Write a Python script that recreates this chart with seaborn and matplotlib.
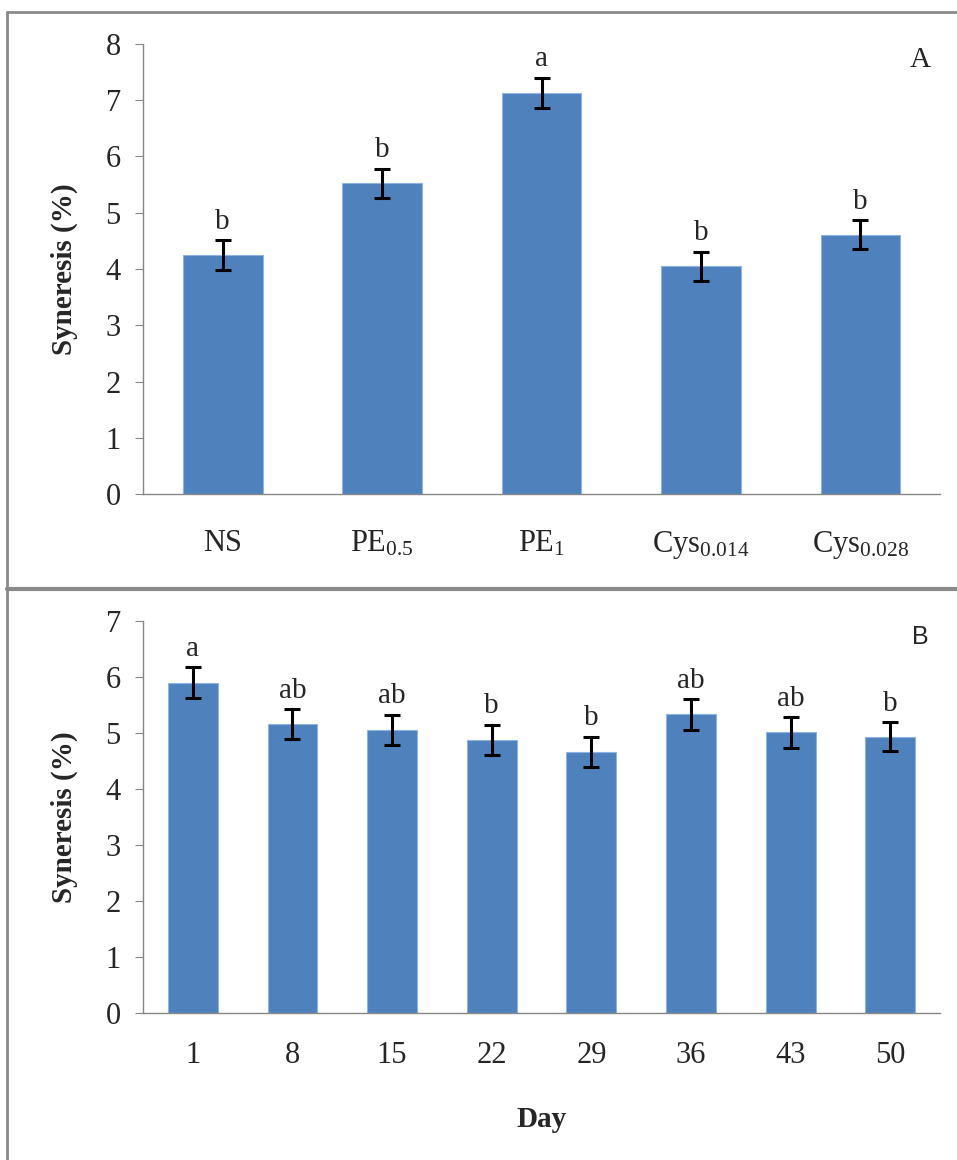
import matplotlib
matplotlib.use("Agg")
import matplotlib.pyplot as plt
import seaborn as sns
import pandas as pd
from matplotlib.lines import Line2D

sns.set_style("white")
plt.rcParams['font.family'] = ['Liberation Serif', 'DejaVu Serif']
plt.rcParams['mathtext.fontset'] = 'custom'
plt.rcParams['mathtext.rm'] = 'Liberation Serif'
plt.rcParams['mathtext.it'] = 'Liberation Serif'

# panel A: treatments
treat_labels = ["NS", r"PE$_{\mathrm{0.5}}$", r"PE$_{\mathrm{1}}$",
                r"Cys$_{\mathrm{0.014}}$", r"Cys$_{\mathrm{0.028}}$"]
treat_vals = [4.25, 5.52, 7.13, 4.05, 4.61]
treat_err = [0.26, 0.26, 0.27, 0.26, 0.26]
treat_letters = ["b", "b", "a", "b", "b"]

# panel B: storage days
days = ["1", "8", "15", "22", "29", "36", "43", "50"]
day_vals = [5.90, 5.16, 5.05, 4.88, 4.66, 5.33, 5.01, 4.93]
day_err = [0.27, 0.26, 0.27, 0.27, 0.27, 0.27, 0.27, 0.26]
day_letters = ["a", "ab", "ab", "b", "b", "ab", "ab", "b"]

bar_color = "#4F81BD"
axis_gray = "#878787"
fs = 21

fig = plt.figure(figsize=(9.57, 11.6), dpi=100)
axA = fig.add_axes([0.1494, 0.5741, 0.833, 0.388])
axB = fig.add_axes([0.1494, 0.1267, 0.833, 0.338])


def draw(ax, cats, vals, errs, letters, ymax, xpad):
    df = pd.DataFrame({"cat": cats, "val": vals})
    sns.barplot(data=df, x="cat", y="val", color=bar_color, width=0.5,
                saturation=1, edgecolor="#8EB4E3", linewidth=0.8, ax=ax)
    ax.errorbar(range(len(vals)), vals, yerr=errs, fmt="none", ecolor="black",
                elinewidth=2.2, capsize=6, capthick=2.2)
    for i, (v, e, t) in enumerate(zip(vals, errs, letters)):
        ax.annotate(t, (i, v + e), xytext=(0, 4), textcoords="offset points",
                    ha="center", va="bottom", fontsize=fs)
    ax.set_xlim(-0.5, len(vals) - 0.5)
    ax.set_ylim(0, ymax)
    ax.set_yticks(range(ymax + 1))
    ax.set_ylabel("Syneresis (%)", fontsize=fs, fontweight="bold", labelpad=20)
    ax.set_xlabel("")
    for s in ["top", "right"]:
        ax.spines[s].set_visible(False)
    for s in ["left", "bottom"]:
        ax.spines[s].set_color(axis_gray)
        ax.spines[s].set_linewidth(1.0)
    ax.tick_params(axis="y", direction="out", length=6, color=axis_gray,
                   labelsize=fs + 1, pad=10, left=True)
    ax.tick_params(axis="x", length=0, labelsize=fs + 1, pad=xpad)


draw(axA, treat_labels, treat_vals, treat_err, treat_letters, 8, 25)
draw(axB, days, day_vals, day_err, day_letters, 7, 20)

axA.text(0.975, 0.965, "A", transform=axA.transAxes, fontsize=fs,
         ha="center", va="center")
axB.text(0.975, 0.96, "B", transform=axB.transAxes, fontsize=18,
         ha="center", va="center", family=["Liberation Sans", "DejaVu Sans"])
axB.set_xlabel("Day", fontsize=fs, fontweight="bold", labelpad=26)

# panel frame lines
fig.add_artist(Line2D([0.007, 1.0], [1 - 12 / 1160, 1 - 12 / 1160],
                      color="#8a8a8a", lw=2, transform=fig.transFigure))
fig.add_artist(Line2D([0.007, 1.0], [1 - 589 / 1160, 1 - 589 / 1160],
                      color="#8a8a8a", lw=3, transform=fig.transFigure))
fig.add_artist(Line2D([0.007, 0.007], [0.0, 1 - 12 / 1160],
                      color="#8a8a8a", lw=2, transform=fig.transFigure))

fig.savefig("out.png", dpi=100)
